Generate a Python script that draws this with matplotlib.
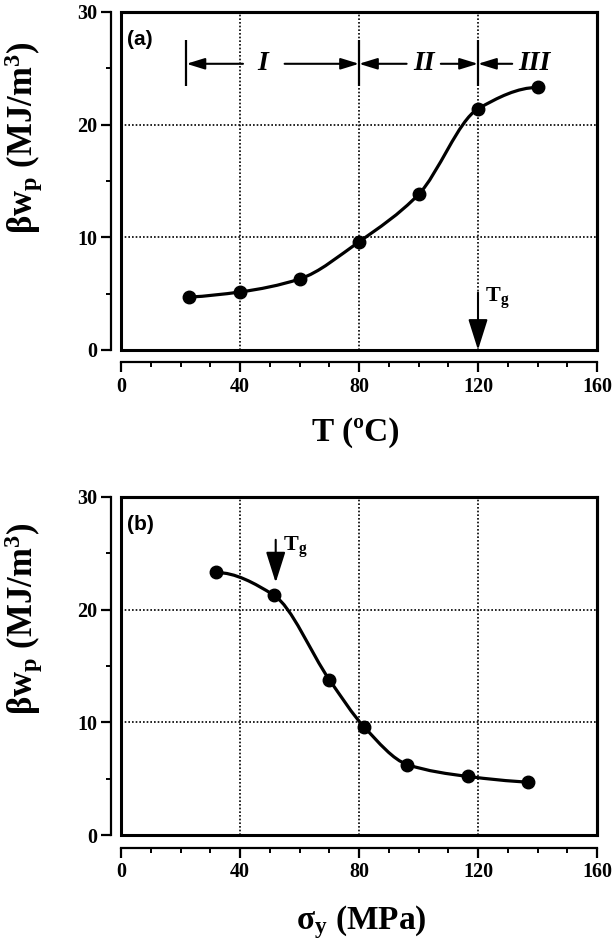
import numpy as np
import matplotlib
matplotlib.use('Agg')
import matplotlib.pyplot as plt
import matplotlib.ticker as mticker
from matplotlib.path import Path
from matplotlib.patches import PathPatch, Rectangle

# Data
temp_c = [23, 40, 60, 80, 100, 120, 140]
bw_temp = [4.7, 5.15, 6.3, 9.6, 13.8, 21.4, 23.3]

sigma_y = [32, 51.3, 70, 81.7, 96.3, 116.6, 136.9]
bw_sigma = [23.3, 21.3, 13.8, 9.6, 6.25, 5.2, 4.7]

region_bounds = [22, 80, 120]
region_names = ['I', 'II', 'III']
tg_temp = 120
tg_sigma = 52

plt.rcParams['font.family'] = ['Liberation Serif', 'DejaVu Serif']
plt.rcParams['font.weight'] = 'bold'
plt.rcParams['mathtext.fontset'] = 'custom'
plt.rcParams['mathtext.rm'] = 'Liberation Serif:bold'
plt.rcParams['mathtext.it'] = 'Liberation Serif:italic:bold'
plt.rcParams['mathtext.bf'] = 'Liberation Serif:bold'


# monotone cubic (pchip) tangents -> bezier path through the points
def smooth_path(x, y):
    x = np.asarray(x, float)
    y = np.asarray(y, float)
    h = np.diff(x)
    d = np.diff(y) / h
    n = len(x)
    m = np.zeros(n)
    for k in range(1, n - 1):
        if d[k - 1] * d[k] > 0:
            w1 = 2 * h[k] + h[k - 1]
            w2 = h[k] + 2 * h[k - 1]
            m[k] = (w1 + w2) / (w1 / d[k - 1] + w2 / d[k])
    m0 = ((2 * h[0] + h[1]) * d[0] - h[0] * d[1]) / (h[0] + h[1])
    m[0] = m0 if m0 * d[0] > 0 else 0
    mn = ((2 * h[-1] + h[-2]) * d[-1] - h[-1] * d[-2]) / (h[-1] + h[-2])
    m[-1] = mn if mn * d[-1] > 0 else 0
    verts = [(x[0], y[0])]
    codes = [Path.MOVETO]
    for k in range(n - 1):
        verts += [(x[k] + h[k] / 3, y[k] + m[k] * h[k] / 3),
                  (x[k + 1] - h[k] / 3, y[k + 1] - m[k + 1] * h[k] / 3),
                  (x[k + 1], y[k + 1])]
        codes += [Path.CURVE4] * 3
    return Path(verts, codes)


def style_axes(ax):
    ax.set_xlim(0, 160)
    ax.set_ylim(0, 30)
    ax.spines['left'].set_position(('outward', 7.5))
    ax.spines['bottom'].set_position(('outward', 9))
    for s in ['left', 'bottom']:
        ax.spines[s].set_linewidth(1.6)
    for s in ['top', 'right']:
        ax.spines[s].set_linewidth(2.2)
    ax.add_patch(Rectangle((0, 0), 1, 1, transform=ax.transAxes, fill=False,
                           lw=2.2, ec='k', clip_on=False, zorder=5))
    ax.xaxis.set_major_locator(mticker.MultipleLocator(40))
    ax.xaxis.set_minor_locator(mticker.MultipleLocator(10))
    ax.yaxis.set_major_locator(mticker.MultipleLocator(10))
    ax.yaxis.set_minor_locator(mticker.MultipleLocator(5))
    ax.tick_params(which='major', length=7.5, width=1.6, labelsize=14.5, pad=3)
    ax.tick_params(which='minor', length=3.5, width=1.4)
    ax.tick_params(axis='y', pad=2)
    ax.grid(which='major', color='k', ls=(0, (1, 1.2)), lw=1.2)
    ax.set_axisbelow(True)


def plot_curve(ax, x, y):
    ax.add_patch(PathPatch(smooth_path(x, y), fill=False, ec='k', lw=2.3, zorder=3))
    ax.plot(x, y, 'o', color='k', ms=9, zorder=4, clip_on=False)


fig = plt.figure(figsize=(6.13, 9.49), dpi=100)
ax1 = fig.add_axes([0.1974, 0.6312, 0.7765, 0.3562])
ax2 = fig.add_axes([0.1974, 0.1201, 0.7765, 0.3562])

# (a) vs temperature
style_axes(ax1)
plot_curve(ax1, temp_c, bw_temp)
ax1.text(2.0, 27.6, '(a)', family='Liberation Sans', fontsize=15, fontweight='bold',
         va='center', ha='left')

# region bars and arrows
bar_lo, bar_hi, ya = 23.4, 27.5, 25.4
ax1.vlines(region_bounds, bar_lo, bar_hi, color='k', lw=1.6)
arr = dict(arrowstyle='-|>,head_length=0.55,head_width=0.17', color='k', lw=1.5,
           shrinkA=0, shrinkB=0, mutation_scale=20)
ax1.annotate('', xy=(region_bounds[0], ya), xytext=(41, ya), arrowprops=arr)
ax1.annotate('', xy=(region_bounds[1], ya), xytext=(55, ya), arrowprops=arr)
ax1.annotate('', xy=(region_bounds[1], ya), xytext=(96, ya), arrowprops=arr)
ax1.annotate('', xy=(region_bounds[2], ya), xytext=(107.5, ya), arrowprops=arr)
ax1.annotate('', xy=(region_bounds[2], ya), xytext=(131.5, ya), arrowprops=arr)
for xl, name in zip([47.5, 101.8, 139.0], region_names):
    ax1.text(xl, ya, name, fontsize=20, fontstyle='italic', fontweight='bold',
             ha='center', va='center')

tg_arr = dict(arrowstyle='-|>,head_length=0.95,head_width=0.3', color='k', lw=1.5,
              shrinkA=0, shrinkB=0, mutation_scale=20)
ax1.annotate('', xy=(tg_temp, 0), xytext=(tg_temp, 5.1), arrowprops=tg_arr)
ax1.text(tg_temp + 2.4, 4.6, 'T$_\\mathrm{g}$', fontsize=16, ha='left', va='center')

# (b) vs yield stress
style_axes(ax2)
plot_curve(ax2, sigma_y, bw_sigma)
ax2.text(2.0, 27.6, '(b)', family='Liberation Sans', fontsize=15, fontweight='bold',
         va='center', ha='left')
ax2.annotate('', xy=(tg_sigma, 22.4), xytext=(tg_sigma, 26.2), arrowprops=tg_arr)
ax2.text(tg_sigma + 2.3, 25.5, 'T$_\\mathrm{g}$', fontsize=16, ha='left', va='center')

# axis labels
ylab = 'βw$_\\mathrm{p}$ (MJ/m$^\\mathrm{3}$)'
fig.text(0.0383, 0.855, ylab, rotation=90, ha='center', va='center', fontsize=25)
fig.text(0.0383, 0.348, ylab, rotation=90, ha='center', va='center', fontsize=25)
fig.text(0.581, 1 - 432 / 949, 'T (ºC)', ha='center', va='center', fontsize=24)
fig.text(0.589, 1 - 922 / 949, 'σ$_\\mathrm{y}$ (MPa)', ha='center', va='center', fontsize=24)

fig.savefig('out.png', dpi=100)
